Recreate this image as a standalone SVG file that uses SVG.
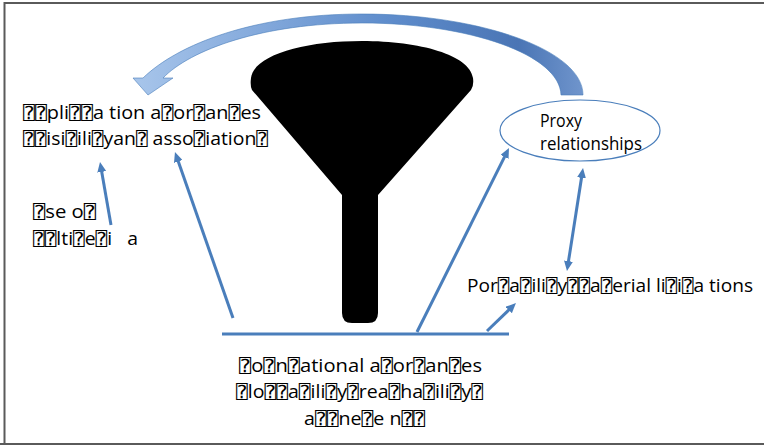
<svg xmlns="http://www.w3.org/2000/svg" width="764" height="445" viewBox="0 0 764 445">
  <style>
    .t { font-family: "Open Sans", "DejaVu Sans", "DejaVu Sans Mono", sans-serif; font-size: 18px; fill: #000; white-space: pre; }
    .c { stroke: #4a7ebb; stroke-width: 3; fill: none; }
  </style>
  <defs>
    <marker id="ah" viewBox="0 0 10 9" refX="2" refY="4.5" markerWidth="10" markerHeight="9" markerUnits="userSpaceOnUse" orient="auto-start-reverse">
      <path d="M0,0 L10,4.5 L0,9 Z" fill="#4a7ebb"/>
    </marker>
    <linearGradient id="arcg" gradientUnits="userSpaceOnUse" x1="140" y1="0" x2="585" y2="0">
      <stop offset="0" stop-color="#a6c4ea"/>
      <stop offset="0.55" stop-color="#5f8dcc"/>
      <stop offset="0.85" stop-color="#4a75b5"/>
      <stop offset="1" stop-color="#7196cd"/>
    </linearGradient>
  </defs>
  <rect width="764" height="445" fill="#fff"/>
  <g id="frame" fill="none" stroke="#5a5a5a" stroke-width="2">
    <path d="M4.5,445 L4.5,3 L764,3"/>
    <path d="M0,444 L764,444"/>
  </g>

  <g id="funnel">
    <path d="M252,90 L342,195 L342,313 Q342,323 352,323 L368,323 Q378,323 378,313 L378,195 L471,90 Q474,86 473,78 C470,55 420,41 362,41 C304,41 254,55 251,78 Q250,86 252,90 Z" fill="#000"/>
  </g>

  <g id="curved-arrow">
    <path d="M583,95 C583,50 480,14 362,14 C255,14 178,44 143,78 L133,78 L148,95 L173,78 L163,78 C190,50 262,23 362,23 C470,23 560,55 561,95 Z" fill="url(#arcg)" stroke="#4a7ebb" stroke-width="0.6"/>
  </g>

  <g id="connectors">
    <line class="c" x1="222" y1="334" x2="509" y2="334" stroke-width="4"/>
    <line class="c" x1="233" y1="318" x2="177.6" y2="159.6" marker-end="url(#ah)"/>
    <line class="c" x1="111" y1="225" x2="101.4" y2="169.9" marker-end="url(#ah)"/>
    <line class="c" x1="417" y1="332" x2="505.4" y2="155.2" marker-end="url(#ah)"/>
    <line class="c" x1="487" y1="331" x2="510.2" y2="308.6" marker-end="url(#ah)"/>
    <line class="c" x1="581.8" y1="175.9" x2="568.2" y2="263.1" marker-start="url(#ah)" marker-end="url(#ah)"/>
  </g>

  <g id="node-application">
    <text class="t" x="23" y="119" textLength="238" lengthAdjust="spacingAndGlyphs">⍰⍰pli⍰⍰a tion a⍰or⍰an⍰es</text>
    <text class="t" x="23" y="145" textLength="245" lengthAdjust="spacingAndGlyphs">⍰⍰isi⍰ili⍰yan⍰ asso⍰iation⍰</text>
  </g>

  <g id="node-use">
    <text class="t" x="33" y="218" textLength="63" lengthAdjust="spacingAndGlyphs">⍰se o⍰</text>
    <text class="t" x="33" y="245" textLength="105" lengthAdjust="spacingAndGlyphs">⍰⍰lti⍰e⍰i   a</text>
  </g>

  <g id="node-proxy">
    <ellipse cx="580" cy="130.5" rx="80" ry="30.5" fill="#fff" stroke="#4a7ebb" stroke-width="1.2"/>
    <text class="t" x="540" y="127" textLength="42" lengthAdjust="spacingAndGlyphs">Proxy</text>
    <text class="t" x="540" y="150" textLength="102" lengthAdjust="spacingAndGlyphs">relationships</text>
  </g>

  <g id="node-portability">
    <text class="t" x="467" y="292" textLength="286" lengthAdjust="spacingAndGlyphs">Por⍰a⍰ili⍰y⍰⍰a⍰erial li⍰i⍰a tions</text>
  </g>

  <g id="node-conventional">
    <text class="t" x="239" y="372" textLength="243" lengthAdjust="spacingAndGlyphs">⍰o⍰n⍰ational a⍰or⍰an⍰es</text>
    <text class="t" x="236" y="398" textLength="247" lengthAdjust="spacingAndGlyphs">⍰lo⍰⍰a⍰ili⍰y⍰rea⍰ha⍰ili⍰y⍰</text>
    <text class="t" x="304" y="425" textLength="121" lengthAdjust="spacingAndGlyphs">a⍰⍰ne⍰e n⍰⍰</text>
  </g>
</svg>
